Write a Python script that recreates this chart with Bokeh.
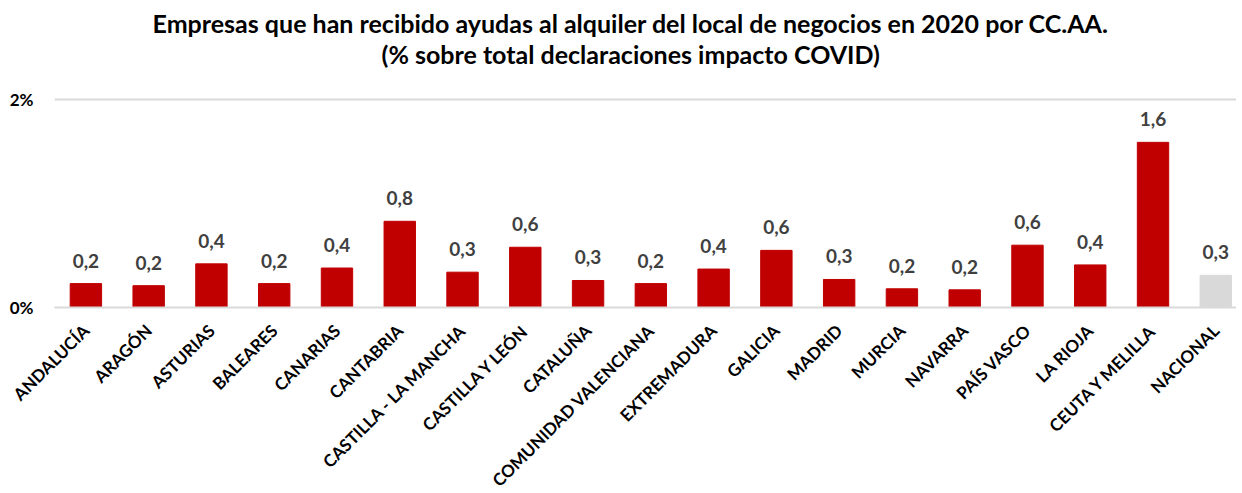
import math
from bokeh.plotting import figure
from bokeh.models import ColumnDataSource, FixedTicker, Range1d
from bokeh.core.properties import value
from bokeh.embed import file_html
from bokeh.resources import INLINE

regions = ["ANDALUCÍA", "ARAGÓN", "ASTURIAS", "BALEARES", "CANARIAS", "CANTABRIA",
           "CASTILLA - LA MANCHA", "CASTILLA Y LEÓN", "CATALUÑA", "COMUNIDAD VALENCIANA",
           "EXTREMADURA", "GALICIA", "MADRID", "MURCIA", "NAVARRA", "PAÍS VASCO",
           "LA RIOJA", "CEUTA Y MELILLA", "NACIONAL"]
values = [0.23, 0.21, 0.42, 0.23, 0.38, 0.83, 0.34, 0.58, 0.26, 0.23,
          0.37, 0.55, 0.27, 0.18, 0.17, 0.60, 0.41, 1.59, 0.31]
y_ticks = [0, 2]
y_tick_labels = ["0%", "2%"]
title_lines = ["Empresas que han recibido ayudas al alquiler del local de negocios en 2020 por CC.AA.",
               "(% sobre total declaraciones impacto COVID)"]

FONT = "Lato"
RED = "#c00000"
GREY = "#d9d9d9"

idx = list(range(len(regions)))
colors = [GREY if r == "NACIONAL" else RED for r in regions]
labels = [f"{v:.1f}".replace(".", ",") for v in values]
src = ColumnDataSource(dict(x=idx, top=values, color=colors, label=labels))

# y range extends above the 2% gridline to leave room for the two-line title
p = figure(frame_width=1182, frame_height=306, output_backend="svg",
           toolbar_location=None, x_range=Range1d(-0.5, 18.33), y_range=Range1d(0, 2.946),
           min_border_left=54, min_border_right=0, min_border_top=1, min_border_bottom=0)

p.vbar(x="x", top="top", width=0.5, color="color", source=src)
p.text(x="x", y="top", text="label", source=src, text_align="center",
       text_baseline="bottom", y_offset=-16, text_font=value(FONT),
       text_font_size="19px", text_font_style="bold", text_color="#404040")

# chart title (two centred lines)
p.text(x=[8.68, 8.68], y=[2.735, 2.436], text=title_lines, text_align="center",
       text_baseline="middle", text_font=value(FONT), text_font_size="25px",
       text_font_style="bold", text_color="#000000")

p.outline_line_color = None
p.xgrid.grid_line_color = None
p.ygrid.ticker = FixedTicker(ticks=y_ticks)
p.ygrid.grid_line_color = GREY
p.ygrid.grid_line_width = 2

p.yaxis.ticker = FixedTicker(ticks=y_ticks)
p.yaxis.major_label_overrides = {t: l for t, l in zip(y_ticks, y_tick_labels)}
p.yaxis.axis_line_color = None
p.yaxis.major_tick_line_color = None
p.yaxis.minor_tick_line_color = None
p.yaxis.major_label_text_font = FONT
p.yaxis.major_label_text_font_size = "17px"
p.yaxis.major_label_text_font_style = "bold"
p.yaxis.major_label_text_color = "#000000"
p.yaxis.major_label_standoff = 15

p.xaxis.ticker = FixedTicker(ticks=idx)
p.xaxis.major_label_overrides = {i: r for i, r in zip(idx, regions)}
p.xaxis.major_label_orientation = math.pi / 4
p.xaxis.axis_line_color = GREY
p.xaxis.axis_line_width = 2
p.xaxis.major_tick_line_color = None
p.xaxis.minor_tick_line_color = None
p.xaxis.major_label_text_font = FONT
p.xaxis.major_label_text_font_size = "17px"
p.xaxis.major_label_text_font_style = "bold"
p.xaxis.major_label_text_color = "#000000"
p.xaxis.major_label_standoff = 14

open("out.html", "w").write(file_html(p, INLINE))
